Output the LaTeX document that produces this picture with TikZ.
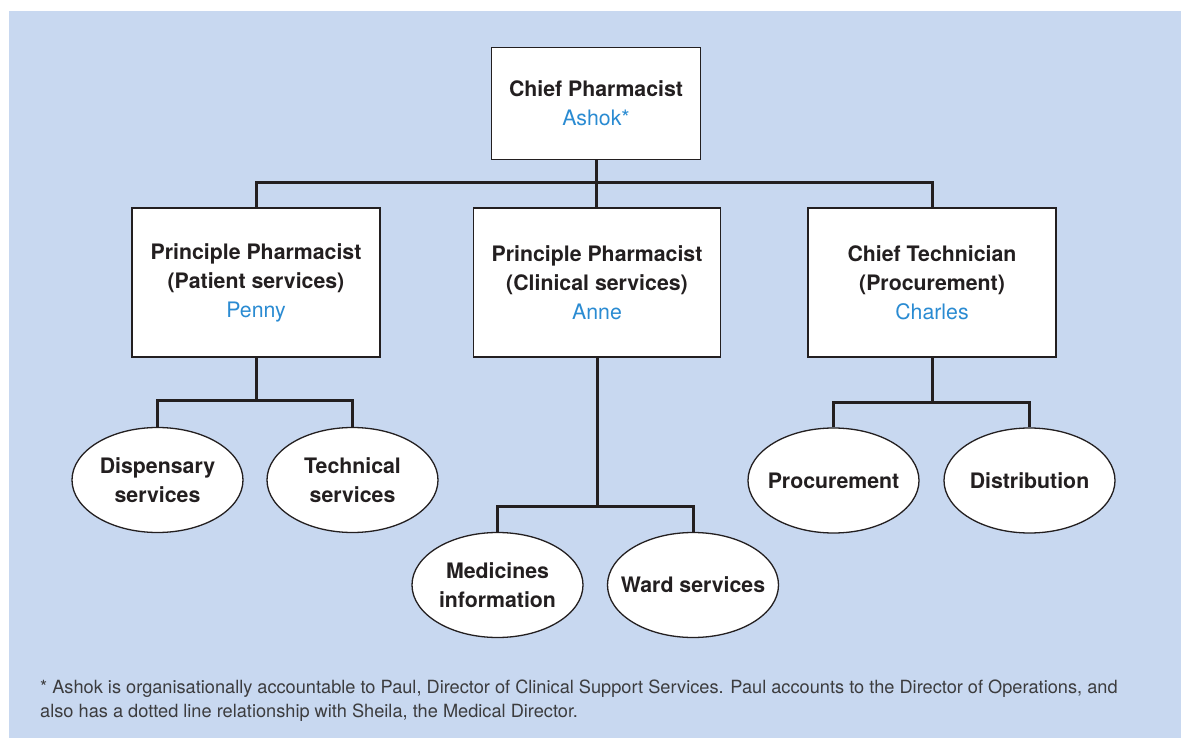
\documentclass[tikz,border=0pt]{standalone}
\usepackage{fontspec}
\setmainfont{TeX Gyre Heros}
\usetikzlibrary{shapes.geometric}
\definecolor{bg}{HTML}{C8D8F0}
\definecolor{ink}{HTML}{231F20}
\definecolor{nameblue}{HTML}{2A8BD2}
\definecolor{notegray}{HTML}{3C3C3E}
\newcommand{\who}[1]{\textcolor{nameblue}{\mdseries #1}}
\begin{document}
\begin{tikzpicture}[x=1pt,y=-1pt,
  boxfont/.style={font=\fontsize{21.3}{29}\selectfont\bfseries, text=ink},
  orgbox/.style={boxfont, draw=ink, line width=1.3pt, fill=white, inner sep=0pt, align=center},
  oval/.style={ellipse, draw=ink, line width=1.3pt, fill=white, inner sep=0pt,
               minimum width=171pt, minimum height=105pt},
  ovaltext/.style={boxfont, align=center, inner sep=0pt},
  conn/.style={draw=ink, line width=3pt, line join=miter},
  note/.style={font=\fontsize{18.2}{23.5}\selectfont, text=notegray, inner sep=0pt}
]
\useasboundingbox (0,0) rectangle (1181,738);
\fill[bg] (9,11) rectangle (1181,738);

% boxes
\node[orgbox, minimum width=209pt, minimum height=112pt] (top) at (596,103.5)
  {Chief Pharmacist\\\who{Ashok*}};
\node[orgbox, minimum width=248pt, minimum height=149pt] (left) at (256,282.5)
  {Principle Pharmacist\\(Patient services)\\\who{Penny}};
\node[orgbox, minimum width=247pt, minimum height=149pt] (mid) at (597,282.5)
  {Principle Pharmacist\\(Clinical services)\\\who{Anne}};
\node[orgbox, minimum width=248pt, minimum height=149pt] (right) at (932,282.5)
  {Chief Technician\\(Procurement)\\\who{Charles}};

% ovals
\node[oval, label={[ovaltext]center:Dispensary\\services}] (disp) at (157.5,480) {};
\node[oval, label={[ovaltext]center:Technical\\services}] (tech) at (352.5,480) {};
\node[oval, label={[ovaltext]center:Medicines\\information}] (medi) at (497.5,585) {};
\node[oval, label={[ovaltext]center:Ward services}] (ward) at (693,585) {};
\node[oval, label={[ovaltext]center:Procurement}] (proc) at (833.5,480.5) {};
\node[oval, label={[ovaltext]center:Distribution}] (dist) at (1029.5,480.5) {};

% junctions
\coordinate (j0) at (596,183);
\coordinate (j1) at (256,400);
\coordinate (j2) at (597,506);
\coordinate (j3) at (932,402);

% connectors
\draw[conn] (top.south) -- (top.south |- mid.north);
\draw[conn] (left.north) |- (j0) -| (right.north);

\draw[conn] (left.south) -- (j1);
\draw[conn] (disp.north) |- (j1) -| (tech.north);

\draw[conn] (mid.south) -- (j2);
\draw[conn] (medi.north) |- (j2) -| (ward.north);

\draw[conn] (right.south) -- (j3);
\draw[conn] (proc.north) |- (j3) -| (dist.north);

% footnote
\node[note, anchor=base west] (n1) at (40,693)
  {* Ashok is organisationally accountable to Paul, Director of Clinical Support Services. Paul accounts to the Director of Operations, and};
\node[note, anchor=base west] (n2) at (40,717)
  {also has a dotted line relationship with Sheila, the Medical Director.};
\end{tikzpicture}
\end{document}
